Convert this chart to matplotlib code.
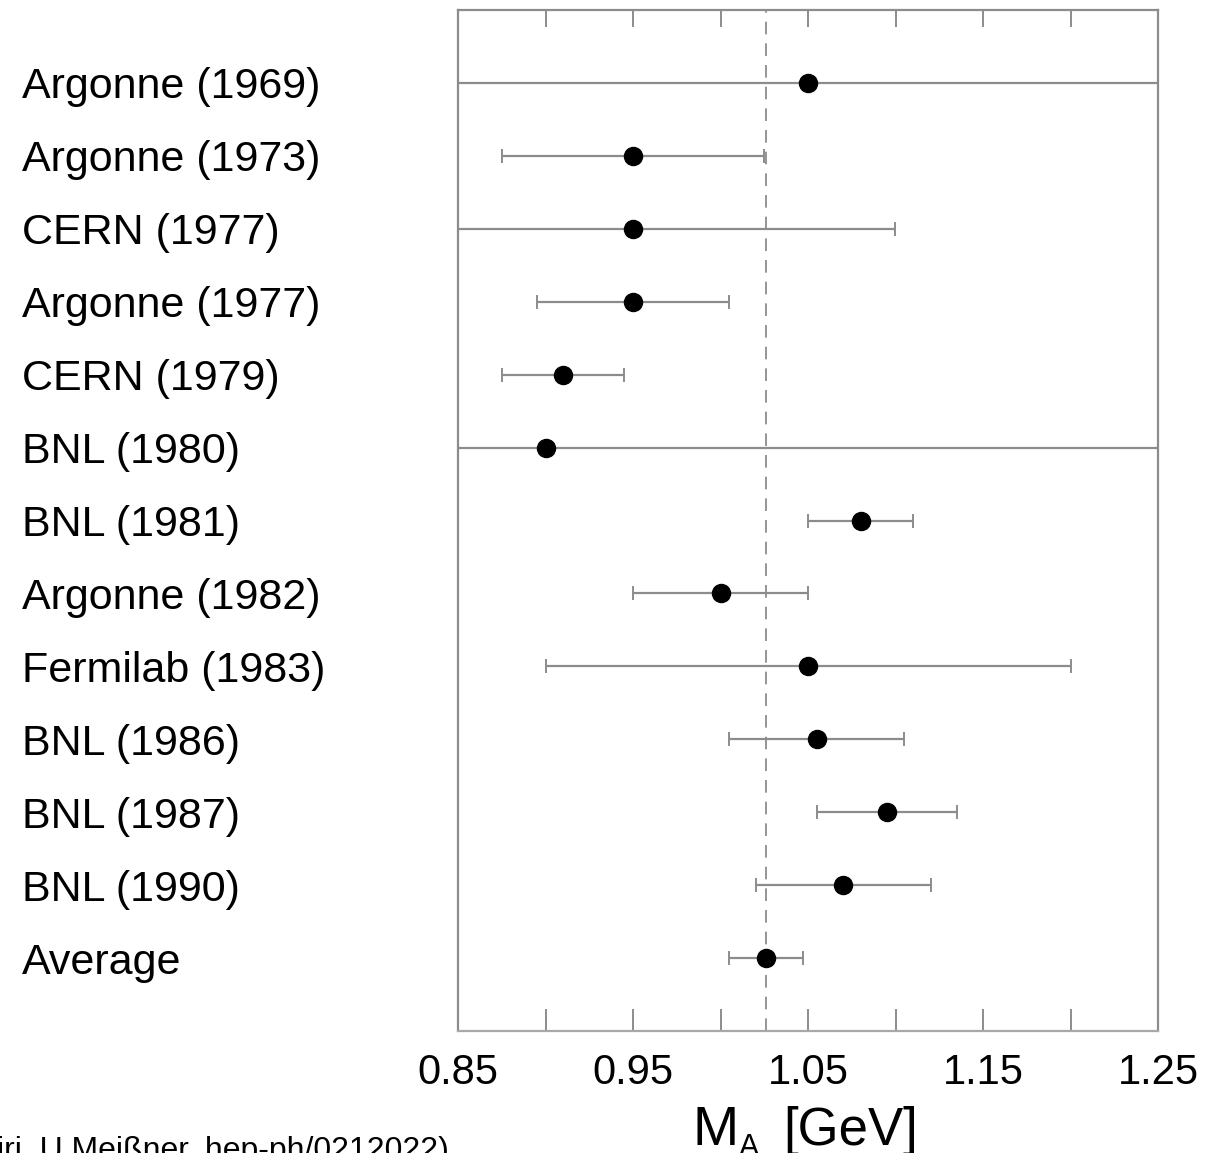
import matplotlib
matplotlib.use("Agg")
import matplotlib.pyplot as plt
import matplotlib.transforms as mtransforms
from matplotlib import font_manager

# ---------------- data ----------------
experiments = ["Argonne (1969)", "Argonne (1973)", "CERN (1977)", "Argonne (1977)",
               "CERN (1979)", "BNL (1980)", "BNL (1981)", "Argonne (1982)",
               "Fermilab (1983)", "BNL (1986)", "BNL (1987)", "BNL (1990)", "Average"]
ma_values = [1.05, 0.95, 0.95, 0.95, 0.91, 0.90, 1.08, 1.00, 1.05, 1.055, 1.095, 1.07, 1.026]
err_low = [0.50, 0.075, 0.15, 0.055, 0.035, 0.50, 0.03, 0.05, 0.15, 0.05, 0.04, 0.05, 0.021]
err_high = [0.50, 0.075, 0.15, 0.055, 0.035, 0.50, 0.03, 0.05, 0.15, 0.05, 0.04, 0.05, 0.021]
average_value = 1.026
major_ticks = [0.85, 0.95, 1.05, 1.15, 1.25]
minor_ticks = [0.90, 1.00, 1.10, 1.20]
tick_labels = ["0.85", "0.95", "1.05", "1.15", "1.25"]
x_label_main = "M"
x_label_sub = "A"
x_label_unit = "[GeV]"
footnote = "iri, U.Meißner, hep-ph/0212022)"

# ---------------- fonts ----------------
names = {f.name for f in font_manager.fontManager.ttflist}
narrow = "Liberation Sans Narrow" if "Liberation Sans Narrow" in names else "Liberation Sans"
plt.rcParams['font.family'] = ['Liberation Sans', 'DejaVu Sans']

W, H = 1206, 1153
fig = plt.figure(figsize=(W / 100, H / 100), dpi=100)
ax = fig.add_axes([458 / W, 1 - 1031 / H, 700 / W, 1021 / H])

gray = "#8c8c8c"
n = len(experiments)
ypos = list(range(n, 0, -1))

ax.axvline(average_value, color=gray, lw=1.3, ls=(0, (7, 5)), zorder=1)
ax.errorbar(ma_values, ypos, xerr=[err_low, err_high], fmt='o', color='black',
            ecolor=gray, elinewidth=1.6, capsize=5, capthick=1.4, markersize=13, zorder=3)

ax.set_xlim(0.85, 1.25)
ax.set_ylim(0, n + 1)

for s in ax.spines.values():
    s.set_color(gray)
    s.set_linewidth(1.6)
ax.spines['bottom'].set_color("#a8a8a8")

ax.set_yticks([])
ax.set_xticks(major_ticks)
ax.set_xticks(minor_ticks, minor=True)
ax.set_xticklabels(tick_labels, fontfamily=[narrow, 'DejaVu Sans'], fontsize=30)
ax.tick_params(axis='x', which='both', direction='in', length=16, width=1.4,
               color=gray, top=False, pad=16)
ax.tick_params(axis='x', which='minor', labelbottom=False)

# shorter top ticks via secondary axis
sec = ax.secondary_xaxis('top')
sec.set_xticks(major_ticks + minor_ticks)
sec.tick_params(direction='in', length=12, width=1.4, color=gray, labeltop=False)
sec.spines['top'].set_visible(False)

# row labels
trans = mtransforms.blended_transform_factory(fig.transFigure, ax.transData)
for name, y in zip(experiments, ypos):
    ax.text(22 / W, y, name, transform=trans, ha='left', va='center_baseline',
            fontsize=31, color='black', clip_on=False)

# x label: M, subscript A, [GeV]
lab_font = [narrow, 'DejaVu Sans']
fig.text(692 / W, 8 / H, x_label_main, ha='left', va='baseline', fontsize=40, fontfamily=lab_font)
fig.text(739 / W, -3 / H, x_label_sub, ha='left', va='baseline', fontsize=22, fontfamily=lab_font)
fig.text(783 / W, 8 / H, x_label_unit, ha='left', va='baseline', fontsize=38, fontfamily=lab_font)

# footnote (cut off at the edges, as in the original)
fig.text(-3 / W, -6 / H, footnote, ha='left', va='baseline', fontsize=23)

fig.savefig("out.png", dpi=100, facecolor='white')
